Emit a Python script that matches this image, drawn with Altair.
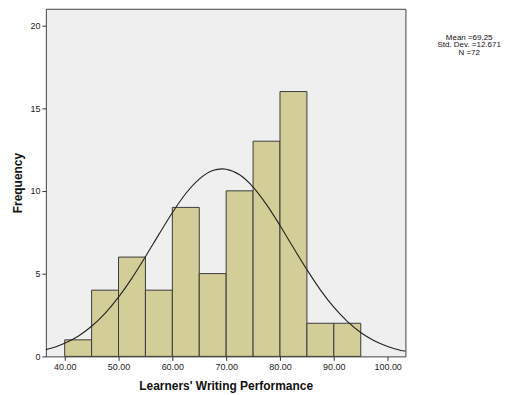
import altair as alt
import pandas as pd

# Histogram data (bin lower edges, width 5)
bin_start = [40, 45, 50, 55, 60, 65, 70, 75, 80, 85, 90]
bin_end = [45, 50, 55, 60, 65, 70, 75, 80, 85, 90, 95]
counts = [1, 4, 6, 4, 9, 5, 10, 13, 16, 2, 2]

# Fitted normal curve
curve_x = [36.5, 37.5, 40, 42.5, 45, 47.5, 50, 52.5, 55, 57.5, 60, 62.5, 65, 67.5,
           69.25, 70, 72.5, 75, 77.5, 80, 82.5, 85, 87.5, 90, 92.5, 95, 97.5, 100,
           102.5, 103.3]
curve_y = [0.41, 0.49, 0.79, 1.22, 1.82, 2.60, 3.58, 4.73, 6.02, 7.37, 8.68, 9.84,
           10.71, 11.23, 11.33, 11.31, 10.97, 10.23, 9.17, 7.91, 6.56, 5.24, 4.02,
           2.97, 2.11, 1.44, 0.94, 0.60, 0.36, 0.31]

stats_lines = ["Mean =69.25", "Std. Dev. =12.671", "N =72"]

bars_df = pd.DataFrame({"start": bin_start, "end": bin_end, "count": counts})
curve_df = pd.DataFrame({"x": curve_x, "y": curve_y})
stats_df = pd.DataFrame({"label": ["\n".join(stats_lines)]})

FONT = "Liberation Sans"
xscale = alt.Scale(domain=[36.5, 103.3], nice=False, zero=False)
yscale = alt.Scale(domain=[0, 21], nice=False)

bars = alt.Chart(bars_df).mark_rect(
    fill="#d3ce97", stroke="#3a3a3a", strokeWidth=1
).encode(
    x=alt.X("start:Q", scale=xscale,
            axis=alt.Axis(values=[40, 50, 60, 70, 80, 90, 100], format=".2f",
                          title="Learners' Writing Performance",
                          grid=False, domain=False, tickSize=4, tickColor="#333",
                          labelFont=FONT, labelFontSize=9, labelColor="#222",
                          labelPadding=2,
                          titleFont=FONT, titleFontSize=12, titleFontWeight="bold",
                          titleColor="#111", titlePadding=9)),
    x2="end:Q",
    y=alt.Y("count:Q", scale=yscale,
            axis=alt.Axis(values=[0, 5, 10, 15, 20], format="d",
                          title="Frequency",
                          grid=False, domain=False, tickSize=4, tickColor="#333",
                          labelFont=FONT, labelFontSize=9, labelColor="#222",
                          labelPadding=2,
                          titleFont=FONT, titleFontSize=12, titleFontWeight="bold",
                          titleColor="#111", titlePadding=5)),
    y2=alt.datum(0),
)

curve = alt.Chart(curve_df).mark_line(
    color="#222222", strokeWidth=1.1, interpolate="monotone"
).encode(
    x=alt.X("x:Q", scale=xscale),
    y=alt.Y("y:Q", scale=yscale),
)

stats = alt.Chart(stats_df).mark_text(
    font=FONT, fontSize=8, lineHeight=7.6, lineBreak="\n", color="#111",
    align="center", baseline="middle"
).encode(
    text="label:N",
    x=alt.value(425),
    y=alt.value(29),
)

chart = alt.layer(bars, curve, stats).properties(
    width=361,
    height=349,
    autosize=alt.AutoSizeParams(type="none"),
    padding={"left": 38, "top": 0, "right": 105, "bottom": 38},
    background="white",
).configure_view(
    fill="#efefef", stroke="#444444", strokeWidth=1
)

chart.save("out.html", embed_options={"renderer": "svg", "actions": False})
